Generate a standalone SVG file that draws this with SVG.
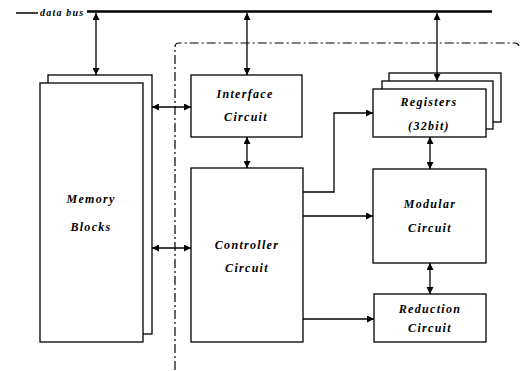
<svg xmlns="http://www.w3.org/2000/svg" width="523" height="371" viewBox="0 0 523 371">
<style>
.box{fill:#fff;stroke:#000;stroke-width:1.3}
.t{font-family:"Liberation Serif","Times New Roman",serif;font-style:italic;font-weight:bold;font-size:12px;letter-spacing:1.3px;text-anchor:middle;fill:#000}
.c{stroke:#000;stroke-width:1.3;fill:none}
</style>
<defs>
<marker id="ah" viewBox="0 0 10 10" refX="10" refY="5" markerWidth="7" markerHeight="7" markerUnits="userSpaceOnUse" orient="auto-start-reverse">
<path d="M0,0 L10,5 L0,10 z" fill="#000"/>
</marker>
</defs>
<rect width="523" height="371" fill="#fff"/>
<g id="databus">
<line x1="16" y1="13" x2="38" y2="13" stroke="#000" stroke-width="1.5"/>
<text x="40" y="15.5" style="font-family:'Liberation Serif','Times New Roman',serif;font-style:italic;font-weight:bold;font-size:10px;letter-spacing:1.2px">data bus</text>
<line x1="87" y1="11.5" x2="492" y2="11.5" stroke="#000" stroke-width="2.5"/>
</g>
<g id="boundary">
<path d="M175,370 L175,47 Q175,43 179,43 L515,43 Q518,43 519,46" fill="none" stroke="#000" stroke-width="1.2" stroke-dasharray="9,3,2,3"/>
</g>
<g id="memory">
<rect class="box" x="48" y="75" width="104" height="259"/>
<rect class="box" x="40" y="83" width="103" height="259"/>
<text class="t" x="91" y="203">Memory</text>
<text class="t" x="91" y="231">Blocks</text>
</g>
<g id="interface">
<rect class="box" x="191" y="75" width="111" height="62"/>
<text class="t" x="245" y="98">Interface</text>
<text class="t" x="246" y="121">Circuit</text>
</g>
<g id="controller">
<rect class="box" x="191" y="168" width="112" height="174"/>
<text class="t" x="247" y="249">Controller</text>
<text class="t" x="247" y="272">Circuit</text>
</g>
<g id="registers">
<rect class="box" x="389" y="73" width="112" height="49"/>
<rect class="box" x="382" y="81" width="111" height="48"/>
<rect class="box" x="373" y="89" width="113" height="48"/>
<text class="t" x="429" y="106">Registers</text>
<text class="t" x="429" y="130">(32bit)</text>
</g>
<g id="modular">
<rect class="box" x="373" y="169" width="113" height="94"/>
<text class="t" x="430" y="208">Modular</text>
<text class="t" x="430" y="232">Circuit</text>
</g>
<g id="reduction">
<rect class="box" x="374" y="294" width="112" height="48"/>
<text class="t" x="430" y="313">Reduction</text>
<text class="t" x="430" y="332">Circuit</text>
</g>
<g id="connectors">
<line class="c" x1="96" y1="13" x2="96" y2="75" marker-start="url(#ah)" marker-end="url(#ah)"/>
<line class="c" x1="247" y1="13" x2="247" y2="75" marker-start="url(#ah)" marker-end="url(#ah)"/>
<line class="c" x1="437" y1="13" x2="437" y2="81" marker-start="url(#ah)" marker-end="url(#ah)"/>
<line class="c" x1="152" y1="107" x2="191" y2="107" marker-start="url(#ah)" marker-end="url(#ah)"/>
<line class="c" x1="152" y1="248" x2="191" y2="248" marker-start="url(#ah)" marker-end="url(#ah)"/>
<line class="c" x1="247" y1="137" x2="247" y2="168" marker-start="url(#ah)" marker-end="url(#ah)"/>
<line class="c" x1="430" y1="137" x2="430" y2="169" marker-start="url(#ah)" marker-end="url(#ah)"/>
<line class="c" x1="430" y1="263" x2="430" y2="294" marker-start="url(#ah)" marker-end="url(#ah)"/>
<polyline class="c" points="303,192 334,192 334,113 373,113" marker-end="url(#ah)"/>
<line class="c" x1="303" y1="216" x2="373" y2="216" marker-end="url(#ah)"/>
<line class="c" x1="303" y1="319" x2="374" y2="319" marker-end="url(#ah)"/>
</g>
</svg>
